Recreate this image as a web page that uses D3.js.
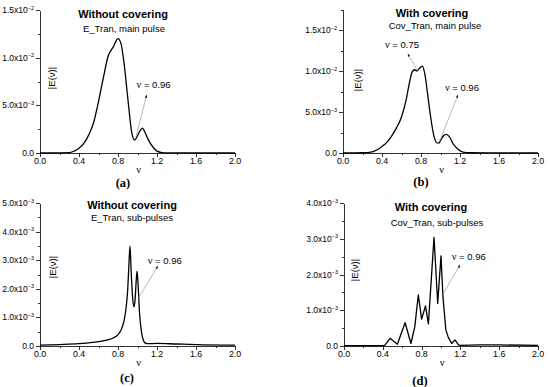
<html><head>
<meta charset="UTF-8">
<title>E(nu) spectra</title>
<script src="https://cdn.jsdelivr.net/npm/d3@7"></script>
<style>
  body { margin: 0; background: #fff; }
  text { font-family: Arial, "Liberation Sans", sans-serif; fill: #000; }
  .curve { fill: none; stroke: #000; stroke-width: 1.3px; stroke-linejoin: round; }
  .axis path, .axis line { stroke: #000; stroke-width: 0.8px; shape-rendering: crispEdges; }
  .pointer { stroke: #9a9a9a; stroke-width: 0.7px; }
</style>
</head>
<body>
<div id="chart"></div>
<script>
// |E(nu)| values are in units of 1e-3
const nuA = [0, 0.2, 0.3, 0.35, 0.4, 0.45, 0.5, 0.55, 0.6, 0.65, 0.7, 0.75, 0.8, 0.83, 0.86, 0.9, 0.94, 0.97, 1.0, 1.03, 1.05, 1.08, 1.11, 1.16, 1.2, 1.25, 1.3, 1.5, 2.0];
const eA  = [0, 0.01, 0.03, 0.2, 0.5, 1.0, 1.9, 3.2, 5.4, 7.9, 10.2, 11.1, 12.0, 11.5, 9.6, 5.8, 2.2, 1.36, 1.8, 2.4, 2.6, 2.1, 1.4, 0.6, 0.2, 0.05, 0.02, 0.01, 0];

const nuB = [0, 0.2, 0.3, 0.35, 0.4, 0.45, 0.5, 0.55, 0.6, 0.65, 0.68, 0.71, 0.735, 0.76, 0.79, 0.815, 0.84, 0.87, 0.9, 0.93, 0.96, 0.98, 1.0, 1.03, 1.06, 1.09, 1.13, 1.18, 1.23, 1.3, 1.5, 2.0];
const eB  = [0, 0.03, 0.15, 0.4, 0.8, 1.3, 2.1, 3.1, 4.4, 6.6, 8.5, 9.9, 10.15, 10.0, 10.4, 10.6, 9.6, 7.0, 4.3, 2.2, 1.25, 1.2, 1.5, 2.1, 2.28, 2.0, 1.1, 0.45, 0.12, 0.03, 0.01, 0];

const nuC = [0, 0.2, 0.4, 0.5, 0.6, 0.7, 0.75, 0.8, 0.83, 0.86, 0.88, 0.9, 0.91, 0.923, 0.935, 0.95, 0.964, 0.975, 0.985, 0.995, 1.005, 1.02, 1.04, 1.06, 1.08, 1.1, 1.2, 1.4, 1.6, 2.0];
const eC  = [0.03, 0.05, 0.08, 0.11, 0.15, 0.22, 0.28, 0.4, 0.55, 0.85, 1.25, 2.0, 2.7, 3.5, 2.6, 1.7, 1.37, 1.6, 2.2, 2.62, 2.2, 1.2, 0.5, 0.2, 0.1, 0.08, 0.09, 0.07, 0.05, 0.03];

const nuD = [0, 0.3, 0.42, 0.475, 0.55, 0.63, 0.69, 0.73, 0.766, 0.8, 0.84, 0.87, 0.928, 0.966, 1.0, 1.02, 1.05, 1.075, 1.11, 1.144, 1.18, 1.2, 1.4, 1.6, 2.0];
const eD  = [0.01, 0.01, 0.02, 0.215, 0.05, 0.65, 0.07, 0.54, 1.43, 0.75, 1.12, 0.62, 3.04, 1.19, 2.52, 1.38, 0.45, 0.24, 0.07, 0.17, 0.03, 0.02, 0.03, 0.03, 0.02];

const xMajor = [0, 0.4, 0.8, 1.2, 1.6, 2.0];
const xMinor = [0.2, 0.6, 1.0, 1.4, 1.8];
const yMajorAB = [0, 5, 10, 15];
const yMinorAB = [2.5, 7.5, 12.5];
const yMinorB = [2.5, 7.5, 12.5, 17.5];
const yMajorC = [0, 1, 2, 3, 4, 5];
const yMajorD = [0, 1, 2, 3, 4];
const yMinorC = [0.5, 1.5, 2.5, 3.5, 4.5];
const yMinorD = [0.5, 1.5, 2.5, 3.5];

const titles = ["Without covering", "With covering", "Without covering", "With covering"];
const subtitles = ["E_Tran, main pulse", "Cov_Tran, main pulse", "E_Tran, sub-pulses", "Cov_Tran, sub-pulses"];
const panelTags = ["(a)", "(b)", "(c)", "(d)"];

// annotations: [curve point nu, E], [arrow tip nu, E], [text nu, E], label value
const notesA = [{from: [0.985, 1.7], to: [1.095, 6.1], at: [0.99, 6.8], label: "0.96"}];
const notesB = [{from: [0.765, 10.0], to: [0.665, 12.1], at: [0.43, 12.8], label: "0.75"},
                {from: [0.99, 1.4], to: [1.18, 7.1], at: [1.045, 7.6], label: "0.96"}];
const notesC = [{from: [1.008, 1.67], to: [1.21, 2.8], at: [1.105, 2.85], label: "0.96"}];
const notesD = [{from: [1.024, 1.47], to: [1.196, 2.27], at: [1.11, 2.4], label: "0.96"}];

const svg = d3.select("#chart").append("svg")
  .attr("width", 550).attr("height", 387);

svg.append("defs").append("marker")
  .attr("id", "tip").attr("viewBox", "0 0 10 10")
  .attr("refX", 9).attr("refY", 5)
  .attr("markerWidth", 5).attr("markerHeight", 5)
  .attr("orient", "auto")
  .append("path").attr("d", "M0,1.5L10,5L0,8.5Z").attr("fill", "#222");

function expLabel(sel, v) {
  if (v === 0) { sel.text("0.0"); return; }
  const val = v * 1e-3;
  const e = Math.floor(Math.log10(val) + 1e-9);
  const m = val / Math.pow(10, e);
  sel.text(m.toFixed(1) + "x10");
  sel.append("tspan").attr("dy", -3.5).attr("font-size", 5.5).text(String(e).replace("-", "\u2212"));
}

function drawPanel(p) {
  const x = d3.scaleLinear().domain([0, 2]).range([p.left, p.right]);
  const y = d3.scaleLinear().domain([0, p.ymax]).range([p.bottom, p.top]);
  const g = svg.append("g");

  // axes
  g.append("g").attr("class", "axis")
    .attr("transform", `translate(0,${p.bottom})`)
    .call(d3.axisBottom(x).tickValues(xMajor).tickSize(4).tickSizeOuter(0).tickFormat(""));
  g.append("g").attr("class", "axis")
    .attr("transform", `translate(0,${p.bottom})`)
    .call(d3.axisBottom(x).tickValues(xMinor).tickSize(2).tickSizeOuter(0).tickFormat(""))
    .select(".domain").remove();
  g.append("g").attr("class", "axis")
    .attr("transform", `translate(${p.left},0)`)
    .call(d3.axisLeft(y).tickValues(p.yMajor).tickSize(4).tickSizeOuter(0).tickFormat(""));
  g.append("g").attr("class", "axis")
    .attr("transform", `translate(${p.left},0)`)
    .call(d3.axisLeft(y).tickValues(p.yMinor).tickSize(2).tickSizeOuter(0).tickFormat(""))
    .select(".domain").remove();

  g.selectAll(".xl").data(xMajor).enter().append("text")
    .attr("x", d => x(d)).attr("y", p.bottom + 10.5)
    .attr("text-anchor", "middle").attr("font-size", 8.8).attr("fill", "#111")
    .text(d => d.toFixed(1));
  g.selectAll(".yl").data(p.yMajor).enter().append("text")
    .attr("x", p.left - 6).attr("y", d => y(d) + 3)
    .attr("text-anchor", "end").attr("font-size", 8.5).attr("fill", "#111")
    .each(function(d) { expLabel(d3.select(this), d); });

  // axis titles
  g.append("text").attr("x", (p.left + p.right) / 2 + 1).attr("y", p.bottom + 19.5)
    .attr("text-anchor", "middle").attr("font-size", 10.5)
    .style("font-family", "'Liberation Serif', 'DejaVu Serif', serif").text("\u03bd");
  g.append("text")
    .attr("transform", `translate(${p.left + p.ylabDx},${p.ylabY}) rotate(-90)`)
    .attr("text-anchor", "middle").attr("dy", "0.35em").attr("font-size", 9.5)
    .text("|E(\u03bd)|");

  // titles
  g.append("text").attr("x", p.tx).attr("y", p.ty).attr("text-anchor", "middle")
    .attr("font-size", 11).attr("font-weight", "bold").text(p.title);
  g.append("text").attr("x", p.sx).attr("y", p.sy).attr("text-anchor", "middle")
    .attr("font-size", 9.5).text(p.subtitle);
  g.append("text").attr("x", p.gx).attr("y", p.gy).attr("text-anchor", "middle")
    .attr("font-size", 12.5).attr("font-weight", "bold")
    .style("font-family", "'Liberation Serif', 'DejaVu Serif', serif").text(p.tag);

  // curve
  const line = d3.line().x(d => x(d[0])).y(d => y(d[1])).curve(p.curve);
  g.append("path").attr("class", "curve").attr("d", line(d3.zip(p.nu, p.e)));

  // annotations
  p.notes.forEach(n => {
    g.append("line").attr("class", "pointer")
      .attr("x1", x(n.from[0])).attr("y1", y(n.from[1]))
      .attr("x2", x(n.to[0])).attr("y2", y(n.to[1]))
      .attr("marker-end", "url(#tip)");
    const t = g.append("text").attr("x", x(n.at[0])).attr("y", y(n.at[1])).attr("font-size", 9.5);
    t.append("tspan").style("font-family", "'Liberation Serif', 'DejaVu Serif', serif").attr("font-size", 10.5).text("\u03bd");
    t.append("tspan").text(" = " + n.label);
  });
}

drawPanel({left: 40, right: 235, top: 10, bottom: 153, ymax: 15, yMajor: yMajorAB, yMinor: yMinorAB,
  nu: nuA, e: eA, curve: d3.curveMonotoneX, notes: notesA,
  title: titles[0], subtitle: subtitles[0], tag: panelTags[0],
  tx: 123, ty: 18, sx: 124, sy: 32, gx: 123, gy: 187, ylabDx: 12, ylabY: 78});
drawPanel({left: 343, right: 538, top: 9.5, bottom: 153, ymax: 17.5, yMajor: yMajorAB, yMinor: yMinorB,
  nu: nuB, e: eB, curve: d3.curveMonotoneX, notes: notesB,
  title: titles[1], subtitle: subtitles[1], tag: panelTags[1],
  tx: 432, ty: 16.5, sx: 435, sy: 28.5, gx: 421, gy: 186, ylabDx: 15, ylabY: 80});
drawPanel({left: 40, right: 235, top: 203, bottom: 346, ymax: 5, yMajor: yMajorC, yMinor: yMinorC,
  nu: nuC, e: eC, curve: d3.curveMonotoneX, notes: notesC,
  title: titles[2], subtitle: subtitles[2], tag: panelTags[2],
  tx: 132, ty: 209, sx: 132, sy: 220.5, gx: 127, gy: 382, ylabDx: 13, ylabY: 267});
drawPanel({left: 344, right: 538, top: 203, bottom: 346, ymax: 4, yMajor: yMajorD, yMinor: yMinorD,
  nu: nuD, e: eD, curve: d3.curveLinear, notes: notesD,
  title: titles[3], subtitle: subtitles[3], tag: panelTags[3],
  tx: 431, ty: 211, sx: 437, sy: 225.5, gx: 420, gy: 385, ylabDx: 11, ylabY: 270});
</script>
</body></html>
